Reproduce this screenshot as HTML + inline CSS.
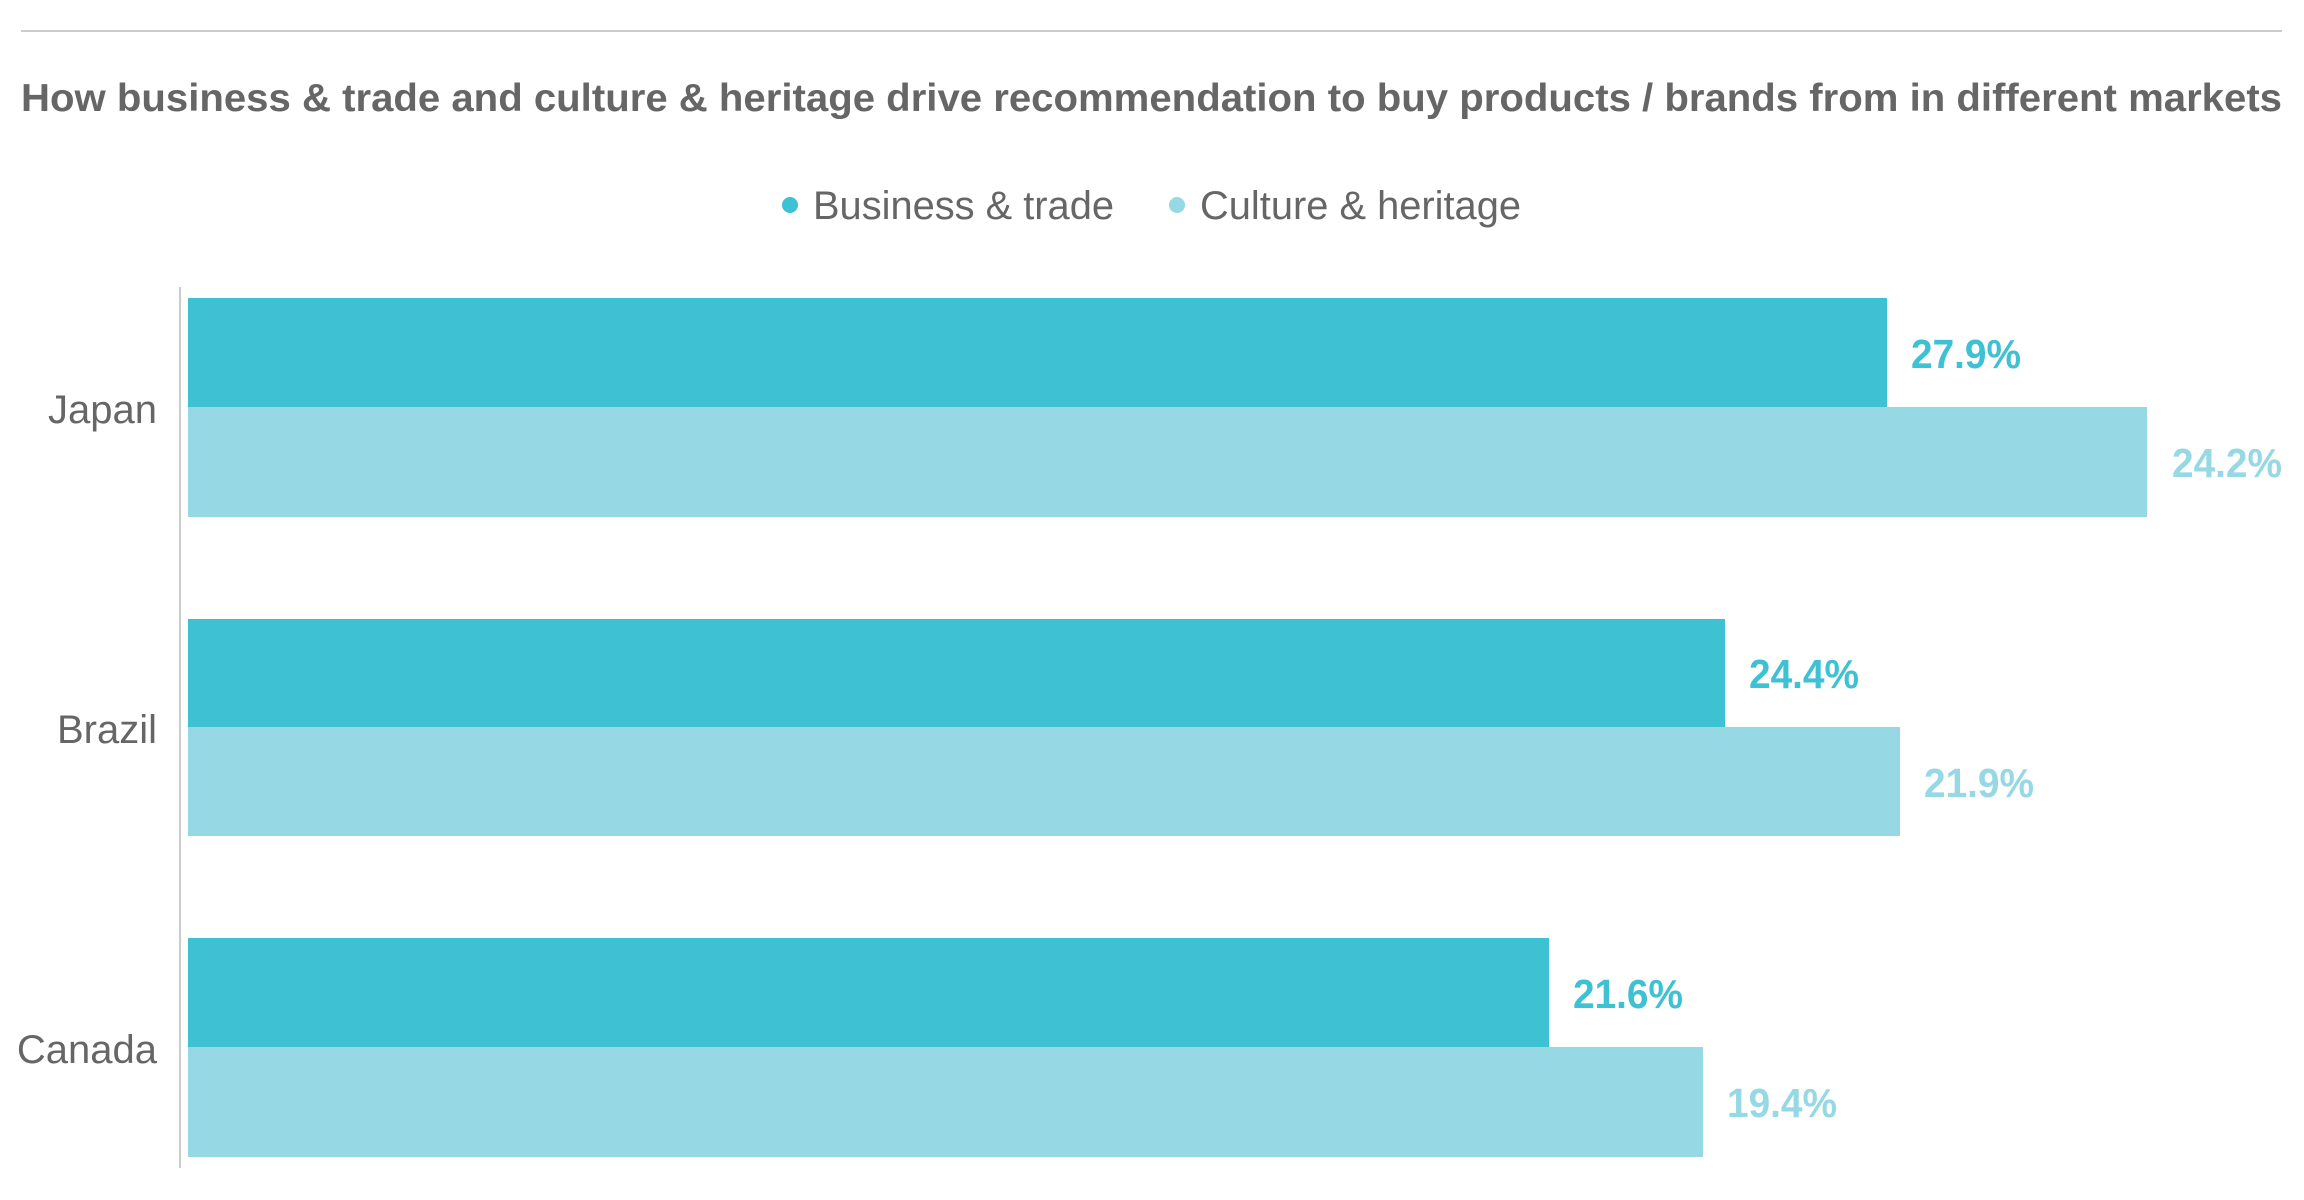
<!DOCTYPE html>
<html><head><meta charset="utf-8"><style>
html,body{margin:0;padding:0;background:#fff;}
svg{display:block;}
</style></head><body>
<svg width="2304" height="1200" viewBox="0 0 2304 1200" xmlns="http://www.w3.org/2000/svg" font-family="'Liberation Sans', sans-serif">
<line x1="21" y1="31" x2="2282" y2="31" stroke="#cccccc" stroke-width="2"/>
<text x="21" y="111" font-size="39" font-weight="bold" fill="#666" textLength="2261" lengthAdjust="spacingAndGlyphs">How business &amp; trade and culture &amp; heritage drive recommendation to buy products / brands from in different markets</text>
<circle cx="790" cy="205" r="8" fill="#3EC1D3"/>
<text x="813" y="219" font-size="40" fill="#666" textLength="301" lengthAdjust="spacingAndGlyphs">Business &amp; trade</text>
<circle cx="1177" cy="205" r="8" fill="#96D8E3"/>
<text x="1200" y="219" font-size="40" fill="#666" textLength="321" lengthAdjust="spacingAndGlyphs">Culture &amp; heritage</text>
<line x1="180" y1="287" x2="180" y2="1168" stroke="#ccc" stroke-width="2"/>
<g font-size="40" fill="#666" text-anchor="end">
<text x="157" y="423">Japan</text>
<text x="157" y="743">Brazil</text>
<text x="157" y="1063">Canada</text>
</g>
<rect x="188" y="298" width="1699" height="109" fill="#3EC1D3"/>
<rect x="188" y="407" width="1959" height="110" fill="#96D8E3"/>
<rect x="188" y="619" width="1537" height="108" fill="#3EC1D3"/>
<rect x="188" y="727" width="1712" height="109" fill="#96D8E3"/>
<rect x="188" y="938" width="1361" height="109" fill="#3EC1D3"/>
<rect x="188" y="1047" width="1515" height="110" fill="#96D8E3"/>
<g font-size="41" font-weight="bold">
<text x="1911" y="368" fill="#3EC1D3" textLength="110" lengthAdjust="spacingAndGlyphs">27.9%</text>
<text x="2172" y="477" fill="#96D8E3" textLength="110" lengthAdjust="spacingAndGlyphs">24.2%</text>
<text x="1749" y="688" fill="#3EC1D3" textLength="110" lengthAdjust="spacingAndGlyphs">24.4%</text>
<text x="1924" y="797" fill="#96D8E3" textLength="110" lengthAdjust="spacingAndGlyphs">21.9%</text>
<text x="1573" y="1008" fill="#3EC1D3" textLength="110" lengthAdjust="spacingAndGlyphs">21.6%</text>
<text x="1727" y="1117" fill="#96D8E3" textLength="110" lengthAdjust="spacingAndGlyphs">19.4%</text>
</g>
</svg>
</body></html>
